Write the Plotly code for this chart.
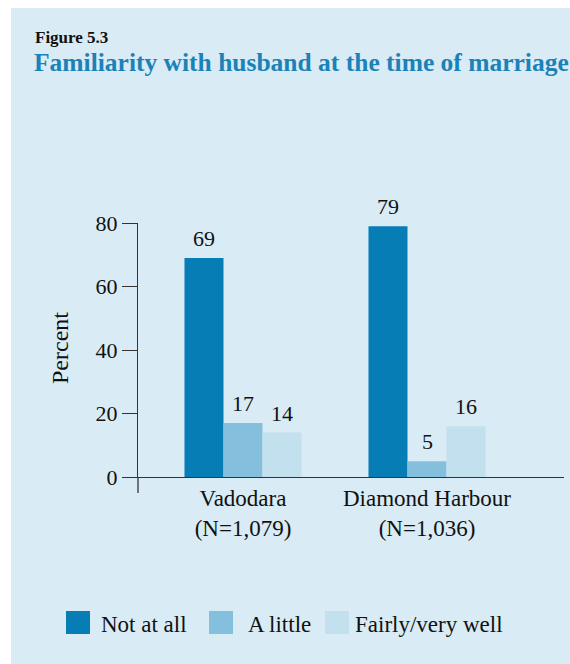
import plotly.graph_objects as go

# ---- data ----
categories = ["Vadodara<br>(N=1,079)", "Diamond Harbour<br>(N=1,036)"]
series_names = ["Not at all", "A little", "Fairly/very well"]
not_at_all = [69, 79]
a_little = [17, 5]
fairly_well = [14, 16]
y_ticks = [0, 20, 40, 60, 80]

values = [not_at_all, a_little, fairly_well]
colors = ["#077db5", "#84c0dd", "#c3e0ee"]
BG = "#d9ebf4"
FONT = "Liberation Serif"

W, H = 570, 664
L, R, T, B = 138, 564, 223, 477  # plot area in pixels


def px(x):
    return (x - L) / (R - L)


def py(y):
    return (B - y) / (B - T)


bargap = 0.364
bw = (1 - bargap) / 3
xpos = list(range(len(categories)))

fig = go.Figure()
for name, vals, col in zip(series_names, values, colors):
    fig.add_trace(go.Bar(x=xpos, y=vals, name=name, marker=dict(color=col, line=dict(width=0)),
                         showlegend=False, hoverinfo="skip"))

annotations = []
# value labels
for i, vals in enumerate(values):
    for j, v in enumerate(vals):
        annotations.append(dict(x=j + (i - 1) * bw, y=v, xref="x", yref="y", text=str(v),
                                showarrow=False, yanchor="bottom", yshift=5,
                                font=dict(family=FONT, size=22, color="#111")))

# titles
annotations.append(dict(x=px(33), y=py(37), xref="paper", yref="paper", text="<b>Figure 5.3</b>",
                        showarrow=False, xanchor="left", yanchor="middle",
                        font=dict(family=FONT, size=17, color="#111")))
annotations.append(dict(x=px(32), y=py(62), xref="paper", yref="paper",
                        text="<b>Familiarity with husband at the time of marriage</b>",
                        showarrow=False, xanchor="left", yanchor="middle",
                        font=dict(family=FONT, size=25.5, color="#1b82b8")))
# y axis title
annotations.append(dict(x=px(60), y=py(348), xref="paper", yref="paper", text="Percent",
                        showarrow=False, textangle=-90, xanchor="center", yanchor="middle",
                        font=dict(family=FONT, size=24, color="#111")))

# manual legend
shapes = [dict(type="rect", xref="paper", yref="paper", x0=px(11), x1=px(570), y0=py(664), y1=py(8),
               fillcolor=BG, line=dict(width=0), layer="below"),
          dict(type="line", xref="paper", yref="paper", x0=0, x1=0, y0=0, y1=py(493),
               line=dict(color="#333", width=1.3))]
leg_sw = [66, 209, 325]
leg_tx = [99, 246, 353]
for name, col, sx, tx in zip(series_names, colors, leg_sw, leg_tx):
    shapes.append(dict(type="rect", xref="paper", yref="paper", x0=px(sx), x1=px(sx + 24),
                       y0=py(634), y1=py(611), fillcolor=col, line=dict(width=0)))
    annotations.append(dict(x=px(tx), y=py(624), xref="paper", yref="paper", text=name,
                            showarrow=False, xanchor="left", yanchor="middle",
                            font=dict(family=FONT, size=23, color="#111")))

xr0 = -(243 - L) / 184
xr1 = (R - 243) / 184

fig.update_layout(
    width=W, height=H,
    margin=dict(l=L, r=W - R, t=T, b=H - B, pad=0),
    paper_bgcolor="white", plot_bgcolor="rgba(0,0,0,0)",
    barmode="group", bargap=bargap, bargroupgap=0,
    showlegend=False,
    font=dict(family=FONT, size=20, color="#111"),
    xaxis=dict(range=[xr0, xr1], tickvals=xpos, ticktext=categories, ticks="",
               showline=True, linecolor="#333", linewidth=1.3, showgrid=False, zeroline=False,
               tickfont=dict(family=FONT, size=23, color="#111"), fixedrange=True),
    yaxis=dict(range=[0, 80], tickvals=y_ticks, ticks="outside", ticklen=15, tickwidth=1.3,
               tickcolor="#333", showline=True, linecolor="#333", linewidth=1.3,
               showgrid=False, zeroline=False,
               tickfont=dict(family=FONT, size=22, color="#111"), fixedrange=True),
    annotations=annotations,
    shapes=shapes,
)

fig.write_html("out.html", config={"displayModeBar": False},
               post_script="document.body.style.margin='0';document.body.style.overflow='hidden';")
